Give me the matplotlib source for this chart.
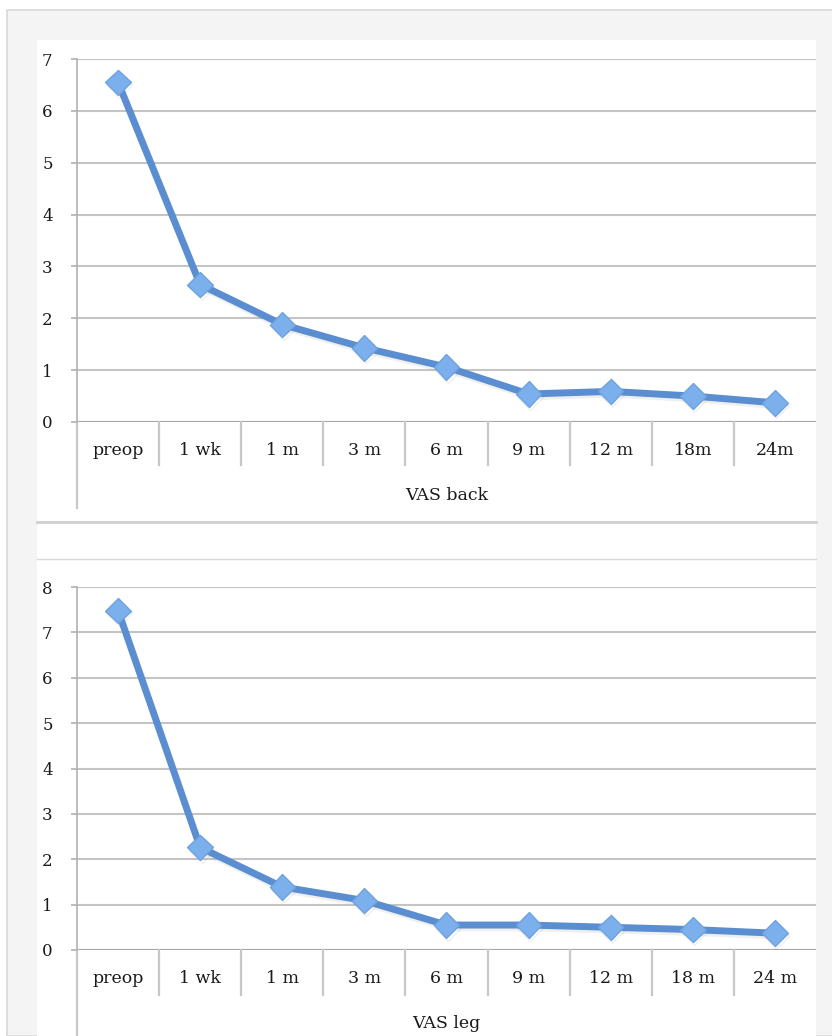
import matplotlib
matplotlib.use("Agg")
import matplotlib.pyplot as plt
from matplotlib.patches import Rectangle
from matplotlib.lines import Line2D
import matplotlib.patheffects as pe

categories_back = ["preop", "1 wk", "1 m", "3 m", "6 m", "9 m", "12 m", "18m", "24m"]
vas_back = [6.55, 2.65, 1.88, 1.43, 1.06, 0.54, 0.59, 0.50, 0.37]

categories_leg = ["preop", "1 wk", "1 m", "3 m", "6 m", "9 m", "12 m", "18 m", "24 m"]
vas_leg = [7.48, 2.26, 1.39, 1.09, 0.55, 0.55, 0.50, 0.45, 0.37]

W, H = 832, 1036
fig = plt.figure(figsize=(W / 100, H / 100), dpi=100)
fig.patch.set_facecolor("white")

FONT = "DejaVu Serif"
TXT = "#1a1a1a"
GRID = "#c4c4c4"
LINE = "#5a8ed0"
MFACE = "#7cb0ec"
MEDGE = "#6ea2e0"


def px_rect(x0, y0, x1, y1):
    return (x0 / W, 1 - y1 / H, (x1 - x0) / W, (y1 - y0) / H)


# outer gray frame and white panel
fig.patches.append(Rectangle((7 / W, 0), 1, 1 - 10 / H, transform=fig.transFigure,
                             facecolor="#f4f4f4", edgecolor="#d8d8d8", lw=1.2, zorder=-2))
fig.patches.append(Rectangle((37 / W, 0), (816 - 37) / W, 1 - 40 / H, transform=fig.transFigure,
                             facecolor="white", edgecolor="none", zorder=-1.5))
fig.lines.append(Line2D([37 / W, 816 / W], [1 - 522 / H] * 2, transform=fig.transFigure,
                        color="#cfcfcf", lw=2.0, zorder=-1))
fig.lines.append(Line2D([37 / W, 816 / W], [1 - 559 / H] * 2, transform=fig.transFigure,
                        color="#d8d8d8", lw=1.0, zorder=-1))


def make_panel(rect, cats, vals, ymax, title, bottom_px, axis_ext_px, title_px, zero_px):
    ax = fig.add_axes(rect)
    ax.set_zorder(3)
    ax.set_facecolor("none")
    n = len(cats)
    x = list(range(n))
    ax.set_xlim(-0.5, n - 0.5)
    ax.set_ylim(0, ymax)
    ax.set_yticks(range(0, ymax + 1))
    ax.grid(axis="y", color=GRID, lw=1.5)
    ax.set_axisbelow(True)
    for s in ["top", "right", "bottom"]:
        ax.spines[s].set_visible(False)
    ax.spines["left"].set_color("#b0b0b0")
    ax.spines["left"].set_linewidth(1.2)
    ax.tick_params(axis="y", length=4.5, width=1.2, color="#b0b0b0", pad=13,
                   labelsize=12, labelcolor=TXT)
    for lab in ax.get_yticklabels():
        lab.set_fontfamily(FONT)
    ax.set_xticks(x)
    ax.set_xticklabels(cats, fontfamily=FONT, fontsize=12.5, color=TXT)
    ax.tick_params(axis="x", length=0, pad=14.5)

    # bottom axis line in gray
    ax.axhline(0, color="#a8a8a8", lw=1.5, zorder=2)

    # category dividers below the axis
    trans = ax.get_xaxis_transform()
    h_ax = rect[3] * H
    div_len = (bottom_px - zero_px) / h_ax
    for i in range(n - 1):
        ax.add_line(Line2D([i + 0.5, i + 0.5], [0, -div_len], transform=trans,
                           color="#c8c8c8", lw=1.6, clip_on=False))
    ext = (axis_ext_px - zero_px) / h_ax
    ax.add_line(Line2D([-0.5, -0.5], [0, -ext], transform=trans,
                       color="#c8c8c8", lw=1.6, clip_on=False))

    ax.text(0.5, -(title_px - zero_px) / h_ax, title, transform=ax.transAxes,
            ha="center", va="center", fontfamily=FONT, fontsize=12.5, color=TXT)

    ax.plot(x, vals, color=LINE, lw=5.0, marker="D", markersize=13,
            markerfacecolor=MFACE, markeredgecolor=MEDGE, markeredgewidth=1.0,
            zorder=5, clip_on=False, solid_joinstyle="round",
            path_effects=[pe.SimpleLineShadow(offset=(1, -2), alpha=0.12, shadow_color="gray"),
                          pe.Normal()])
    return ax


make_panel(px_rect(77, 59, 816, 422), categories_back, vas_back, 7, "VAS back",
           bottom_px=465, axis_ext_px=508, title_px=495, zero_px=422)
make_panel(px_rect(77, 587, 816, 950), categories_leg, vas_leg, 8, "VAS leg",
           bottom_px=995, axis_ext_px=1036, title_px=1024, zero_px=950)

fig.savefig("out.png", dpi=100, facecolor=fig.get_facecolor())
